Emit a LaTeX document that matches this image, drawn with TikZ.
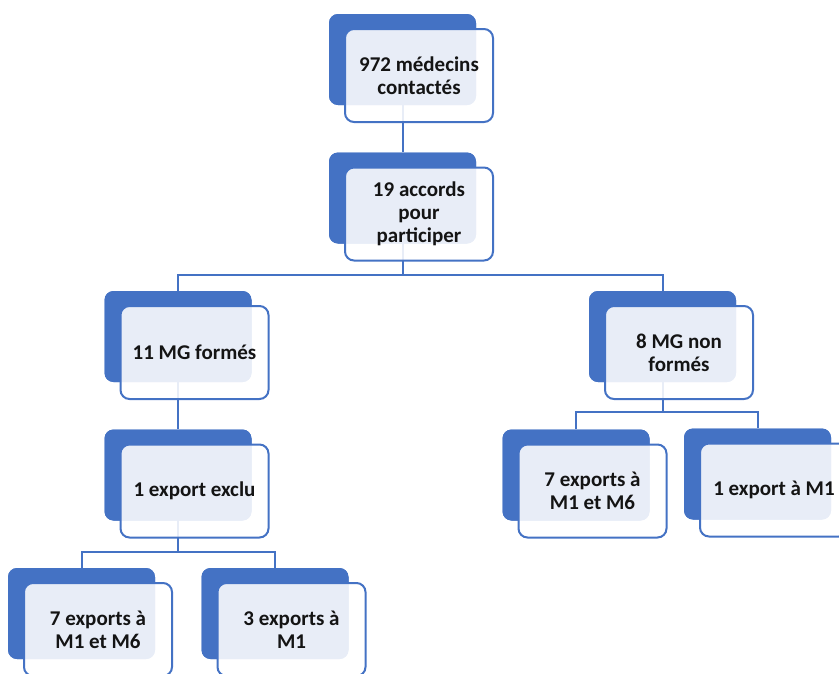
\documentclass[tikz,border=0pt]{standalone}
\usepackage{fontspec}
\setmainfont{Carlito}
\definecolor{accent}{HTML}{4472C4}
\tikzset{
  backbox/.style={rectangle, rounded corners=9pt, fill=accent,
    minimum width=147pt, minimum height=91pt, inner sep=0pt},
  frontbox/.style={rectangle, rounded corners=9pt, draw=accent, line width=2pt,
    fill=white, fill opacity=0.88, text opacity=1, text=black!92,
    minimum width=148pt, minimum height=93pt, inner sep=0pt, align=center,
    font=\fontsize{21}{23}\selectfont\bfseries},
  link/.style={draw=accent, line width=2pt},
}
% one org-chart entry: a solid tab behind a translucent card
\newcommand\orgentry[3]{%
  \node[backbox] (b#1) at (#2) {};
  \node[frontbox] (f#1) at ([shift={(16.5,16)}]b#1.center) {#3};
}
\begin{document}
\begin{tikzpicture}[x=1pt, y=-1pt]
  \useasboundingbox (0,0) rectangle (839,673);
  \clip (0,0) rectangle (839,673);

  % back tabs, placed first so the connectors can refer to them
  \path
    node[backbox] (b1) at (402.5,59.5) {}
    node[backbox] (b2) at (402.5,198) {}
    node[backbox] (b3) at (178,336.5) {}
    node[backbox] (b4) at (662.5,336.5) {}
    node[backbox] (b5) at (178,475) {}
    node[backbox] (b6) at (576,475) {}
    node[backbox] (b7) at (757.5,474) {}
    node[backbox] (b8) at (81.5,613.5) {}
    node[backbox] (b9) at (275,613.5) {};

  % junction points of the horizontal buses
  \coordinate (j2) at (402.5,275);
  \coordinate (j4) at (662.5,412);
  \coordinate (j5) at (178,552);

  % connectors
  \draw[link] (b1.center) -- (b2.north);
  \draw[link] (b2.center) -- (j2);
  \draw[link] (b3.north) |- (j2) -| (b4.north);
  \draw[link] (b3.center) -- (b5.north);
  \draw[link] (b4.center) -- (j4);
  \draw[link] (b6.north) |- (j4) -| (b7.north);
  \draw[link] (b5.center) -- (j5);
  \draw[link] (b8.north) |- (j5) -| (b9.north);

  % tabs and cards on top of the connectors
  \orgentry{1}{402.5,59.5}{972 médecins\\contactés}
  \orgentry{2}{402.5,198}{19 accords\\pour\\participer}
  \orgentry{3}{178,336.5}{11 MG formés}
  \orgentry{4}{662.5,336.5}{8 MG non\\formés}
  \orgentry{5}{178,475}{1 export exclu}
  \orgentry{6}{576,475}{7 exports à\\M1 et M6}
  \orgentry{7}{757.5,474}{1 export à M1}
  \orgentry{8}{81.5,613.5}{7 exports à\\M1 et M6}
  \orgentry{9}{275,613.5}{3 exports à\\M1}
\end{tikzpicture}
\end{document}
